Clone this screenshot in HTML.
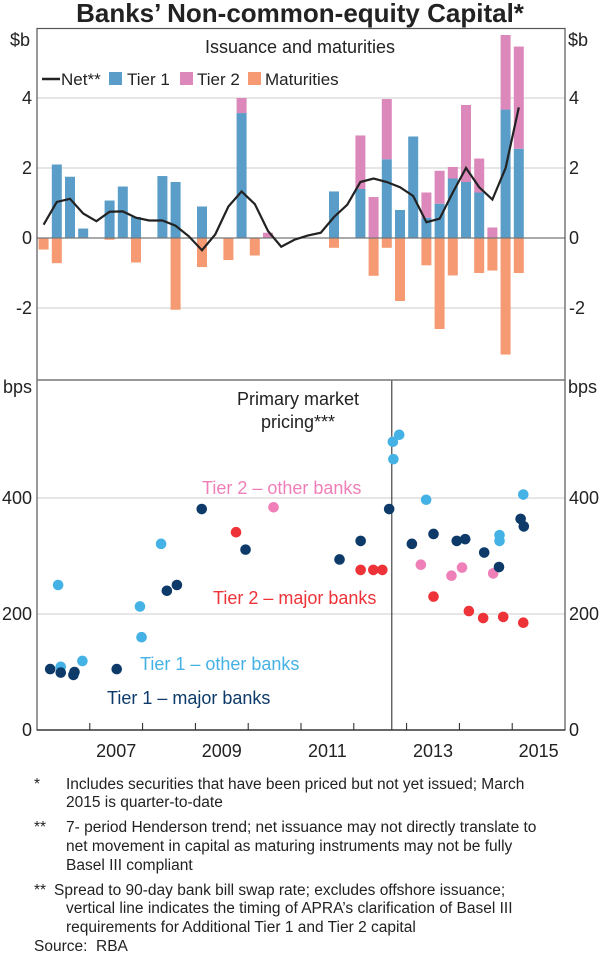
<!DOCTYPE html>
<html><head><meta charset="utf-8"><style>
body{margin:0;background:#fff;width:600px;height:954px;overflow:hidden;font-family:"Liberation Sans",Arial,sans-serif}
svg text{font-family:"Liberation Sans",Arial,sans-serif}
</style></head><body>
<svg id="c" width="600" height="954" viewBox="0 0 600 954">
<text x="300" y="22" text-anchor="middle" font-size="26" font-weight="bold" fill="#222">Banks’ Non-common-equity Capital*</text>
<g id="topG"></g><g id="botG"></g>
<g font-size="15.5" fill="#222">
<text x="34" y="789">*</text><text x="66" y="789">Includes securities that have been priced but not yet issued; March</text>
<text x="66" y="807">2015 is quarter-to-date</text>
<text x="34" y="832">**</text><text x="66" y="832">7- period Henderson trend; net issuance may not directly translate to</text>
<text x="66" y="851">net movement in capital as maturing instruments may not be fully</text>
<text x="66" y="870">Basel III compliant</text>
<text x="34" y="895">**</text><text x="54" y="895">Spread to 90-day bank bill swap rate; excludes offshore issuance;</text>
<text x="66" y="913">vertical line indicates the timing of APRA’s clarification of Basel III</text>
<text x="66" y="932">requirements for Additional Tier 1 and Tier 2 capital</text>
<text x="34" y="951">Source:</text><text x="96" y="951">RBA</text>
</g>
</svg>
<script>
// Top panel data (quarters from 2006Q1)
const quarterIdx=[0,1,2,3,4,5,6,7,8,9,10,11,12,13,14,15,16,17,18,19,20,21,22,23,24,25,26,27,28,29,30,31,32,33,34,35,36];
const tier1=[0,2.1,1.75,0.27,0,1.07,1.47,0.6,0,1.77,1.6,0,0.9,0,0,3.57,0,0,0,0,0,0,1.33,0,1.4,0,2.25,0.8,2.9,0.58,0.98,1.7,1.6,1.3,0,3.67,2.55];
const tier2=[0,0,0,0,0,0,0,0,0,0,0,0,0,0,0,0.43,0,0.15,0,0,0,0,0,0,1.53,1.17,1.72,0,0,0.72,0.94,0.33,2.2,0.97,0.3,2.13,2.92];
const maturities=[-0.33,-0.72,0,0,0,-0.05,0,-0.7,0,0,-2.05,0,-0.83,0,-0.63,0,-0.5,0,0,0,0,0,-0.28,0,0,-1.08,-0.28,-1.8,0,-0.78,-2.6,-1.07,0,-1.0,-0.93,-3.33,-1.0];
const net=[0.38,1.03,1.12,0.7,0.48,0.75,0.76,0.58,0.5,0.5,0.35,0.05,-0.35,0.1,0.9,1.33,0.97,0.2,-0.25,-0.05,0.07,0.15,0.6,0.95,1.6,1.7,1.6,1.45,1.2,0.45,0.55,1.3,2.0,1.45,1.1,2.0,3.73];
const topTicks=[-2,0,2,4];
// Bottom panel data (decimal years)
const t1majDate=[2006.25,2006.45,2006.69,2006.71,2007.51,2008.46,2008.65,2009.12,2009.95,2011.73,2012.13,2012.67,2013.10,2013.51,2013.95,2014.11,2014.47,2014.75,2015.16,2015.22];
const t1majVal=[105,99,95,100,105,240,250,381,311,294,326,381,321,338,326,329,306,281,364,351];
const t1othDate=[2006.40,2006.45,2006.86,2007.95,2007.98,2008.35,2012.74,2012.86,2012.75,2013.37,2014.76,2014.76,2015.21];
const t1othVal=[250,109,119,213,160,321,497,509,467,397,336,326,406];
const t2majDate=[2009.77,2012.13,2012.37,2012.54,2013.51,2014.18,2014.45,2014.83,2015.21];
const t2majVal=[341,276,276,276,230,205,193,195,185];
const t2othDate=[2010.48,2013.27,2013.85,2014.05,2014.64];
const t2othVal=[384,285,266,280,270];
const botTicks=[0,200,400];
const yearLabels=[2007,2009,2011,2013,2015];

const NS="http://www.w3.org/2000/svg";
function mk(p,tag,at){const e=document.createElementNS(NS,tag);for(const k in at)e.setAttribute(k,at[k]);p.appendChild(e);return e;}
const L=37,R=565;
const qx=i=>L+(R-L)/40*(i+0.5);
const dx=d=>L+(R-L)/10*(d-2006);
const ty=v=>238-35*v;
const by=v=>730-0.58*v;
const topG=document.getElementById('topG'),botG=document.getElementById('botG');

topTicks.forEach(t=>{
 if(t!==0){const g=mk(topG,'line',{x1:L,x2:R,y1:ty(t),y2:ty(t),stroke:'#ccc','stroke-width':1});
 
 }
 const a=mk(topG,'text',{x:32,y:ty(t)+6,'text-anchor':'end','font-size':18,fill:'#222'});a.textContent=t;
 
 
 const b=mk(topG,'text',{x:569,y:ty(t)+6,'font-size':18,fill:'#222'});b.textContent=t;
 
 
});
quarterIdx.forEach((q,i)=>{
 const x=qx(q)-5;
 if(tier1[i]>0){const r=mk(topG,'rect',{x:x,width:10,y:ty(tier1[i]),height:ty(0)-ty(tier1[i]),fill:'#5a9dc8'});
  
  }
 if(tier2[i]>0){const r=mk(topG,'rect',{x:x,width:10,y:ty(tier1[i]+tier2[i]),height:ty(0)-ty(tier2[i]),fill:'#dc88bb'});
  
  }
 if(maturities[i]<0){const r=mk(topG,'rect',{x:x,width:10,y:ty(0),height:ty(maturities[i])-ty(0),fill:'#f59a72'});
  
  }
});
const z=mk(topG,'line',{x1:L,x2:R,y1:ty(0),y2:ty(0),stroke:'#777','stroke-width':1.2});


const nl=mk(topG,'polyline',{points:quarterIdx.map((q,i)=>qx(q)+','+ty(net[i])).join(' '),fill:'none',stroke:'#222','stroke-width':2.2});



botTicks.forEach(t=>{
 if(t!==0){const g=mk(botG,'line',{x1:L,x2:R,y1:by(t),y2:by(t),stroke:'#ccc','stroke-width':1});
 
 }
 const a=mk(botG,'text',{x:32,y:by(t)+6,'text-anchor':'end','font-size':18,fill:'#222'});a.textContent=t;
 
 
 const b=mk(botG,'text',{x:569,y:by(t)+6,'font-size':18,fill:'#222'});b.textContent=t;
 
 
});
for(let y=2007;y<=2015;y++){const t=mk(botG,'line',{x1:dx(y),x2:dx(y),y1:730,y2:723,stroke:'#222','stroke-width':1});
 
 }
yearLabels.forEach(y=>{const t=mk(botG,'text',{x:dx(y+0.5),y:757,'text-anchor':'middle','font-size':18,fill:'#222'});t.textContent=y;
 
 });
const vl=mk(botG,'line',{x1:dx(2012.72),x2:dx(2012.72),y1:380,y2:730,stroke:'#222','stroke-width':1});


function dots(ds,vs,col,name){ds.forEach((d,i)=>{const c=mk(botG,'circle',{cx:dx(d),cy:by(vs[i]),r:5.3,fill:col});
 
 });}
dots(t2othDate,t2othVal,'#ef7fb8','dot-tier2-other');
dots(t2majDate,t2majVal,'#ee3338','dot-tier2-major');
dots(t1othDate,t1othVal,'#45b2e6','dot-tier1-other');
dots(t1majDate,t1majVal,'#0d3a69','dot-tier1-major');
</script>
<svg width="600" height="954" style="position:absolute;left:0;top:0">
<rect x="37" y="28.5" width="528" height="701.5" fill="none" stroke="#555" stroke-width="1.2"/>
<line x1="37" x2="565" y1="380" y2="380" stroke="#777" stroke-width="1.5"/>
<line x1="37" x2="565" y1="730" y2="730" stroke="#222" stroke-width="1.2"/>
<text x="10" y="46" font-size="18" fill="#222">$b</text>
<text x="568" y="46" font-size="18" fill="#222">$b</text>
<text x="300" y="53" text-anchor="middle" font-size="18" fill="#222">Issuance and maturities</text>
<g font-size="17" fill="#222">
<line x1="42" x2="60" y1="79" y2="79" stroke="#222" stroke-width="2.5"/>
<text x="61" y="85">Net**</text>
<rect x="109" y="72" width="13" height="13" fill="#5a9dc8"/>
<text x="127" y="85">Tier 1</text>
<rect x="180" y="72" width="13" height="13" fill="#dc88bb"/>
<text x="197" y="85">Tier 2</text>
<rect x="248" y="72" width="13" height="13" fill="#f59a72"/>
<text x="265" y="85">Maturities</text>
</g>
<text x="3" y="393" font-size="18" fill="#222">bps</text>
<text x="568" y="393" font-size="18" fill="#222">bps</text>
<text x="298" y="405" text-anchor="middle" font-size="18" fill="#222">Primary market</text>
<text x="298" y="428" text-anchor="middle" font-size="18" fill="#222">pricing***</text>
<text x="202" y="494" font-size="18" fill="#ef7fb8">Tier 2 – other banks</text>
<text x="213" y="604" font-size="18" fill="#ee3338">Tier 2 – major banks</text>
<text x="140" y="670" font-size="18" fill="#45b2e6">Tier 1 – other banks</text>
<text x="107" y="704" font-size="18" fill="#0d3a69">Tier 1 – major banks</text>
</svg>
</body></html>
